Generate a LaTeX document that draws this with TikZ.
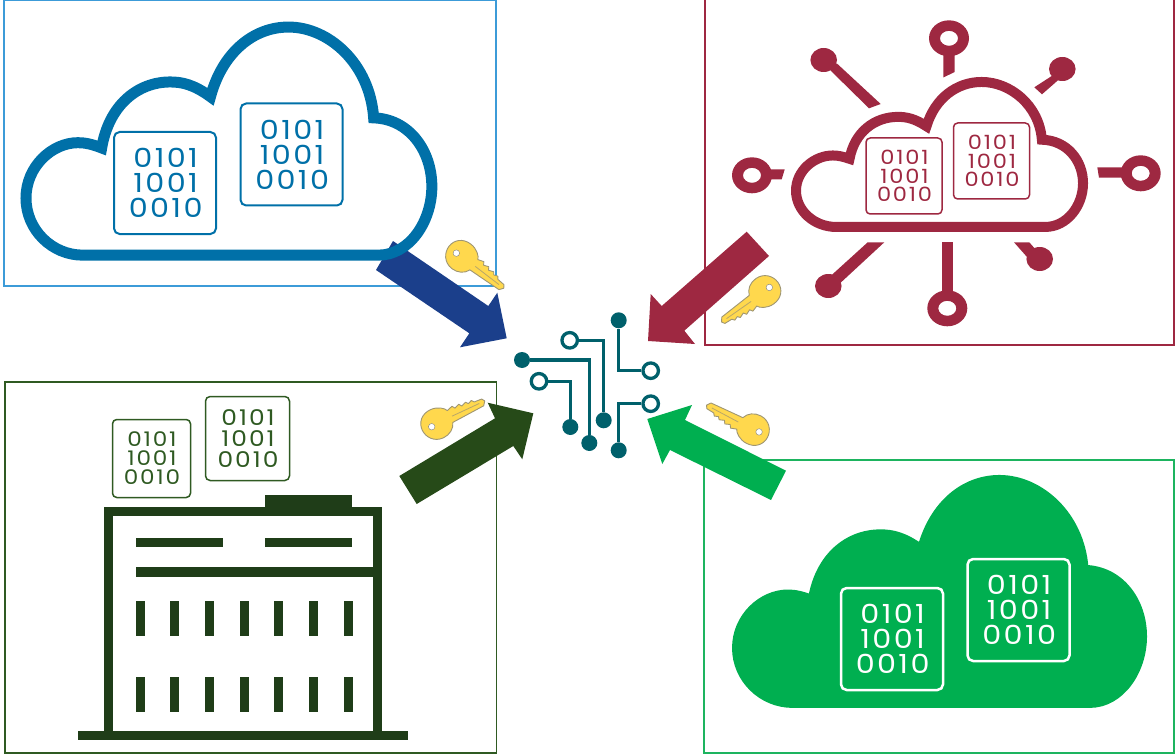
\documentclass[tikz,border=0pt]{standalone}
\usepackage{fontspec}
\setmainfont{Poppins}
\usetikzlibrary{calc}
\definecolor{cblue}{HTML}{0070A8}
\definecolor{fblue}{HTML}{3C9BD8}
\definecolor{ablue}{HTML}{1B3F8B}
\definecolor{cmar}{HTML}{9E2841}
\definecolor{cdg}{HTML}{1F3D18}
\definecolor{tdg}{HTML}{2F5A22}
\definecolor{adg}{HTML}{264A18}
\definecolor{cgr}{HTML}{00AF50}
\definecolor{fgr}{HTML}{1DB45F}
\definecolor{cteal}{HTML}{00606B}
\definecolor{ckey}{HTML}{FFD84D}
\tikzset{
  frame/.style={line width=1.5pt},
  cdot/.style={circle,fill=cteal,draw=none,inner sep=0pt,minimum size=16pt},
  copen/.style={circle,fill=white,draw=cteal,line width=3.3pt,inner sep=0pt,minimum size=15.5pt},
  trace/.style={draw=cteal,line width=3.2pt},
  wall/.style={fill=cdg,draw=none},
  sat/.style={fill=cmar,draw=none,even odd rule},
}
\newcommand{\cloudpath}{(135,448) -- (760,448) .. controls (825,448) and (873,385) .. (873,318)
  .. controls (873,250) and (825,190) .. (750,188)
  .. controls (742,85) and (655,16) .. (570,16)
  .. controls (495,16) and (430,65) .. (405,148)
  .. controls (370,125) and (345,120) .. (320,120)
  .. controls (250,120) and (190,165) .. (175,245)
  .. controls (155,238) and (140,235) .. (125,235)
  .. controls (70,235) and (15,280) .. (15,340)
  .. controls (15,400) and (70,448) .. (135,448) -- cycle}
% x y xscale yscale options
\newcommand{\cloudicon}[5]{\begin{scope}[shift={(#1,#2)},xscale=#3,yscale=#4]
  \path[#5,miter limit=10] \cloudpath;
\end{scope}}
% name cx cy width colour linewidth
\newcommand{\binbox}[6]{%
  \pgfmathsetmacro{\bfs}{#4*0.258}\pgfmathsetmacro{\bls}{#4*0.245}\pgfmathsetmacro{\brc}{#4*0.055}%
  \node[draw=#5,line width=#6,rounded corners=\brc pt,minimum size=#4pt,inner sep=0pt,text=#5,align=center,
    font=\fontsize{\bfs}{\bls}\selectfont\addfontfeature{FakeStretch=1.15,LetterSpace=9}] (#1) at (#2,#3) {\hspace{0.05em}0101\\\hspace{0.05em}1001\\\hspace{0.05em}0010};}
% name x y rotate
\newcommand{\keyicon}[4]{\begin{scope}[shift={(#2,#3)},rotate=#4]
  \path[fill=ckey,draw=gray!75!ckey,line width=0.9pt,line join=round]
    (0,-15) .. controls (8,-15) and (14,-10) .. (15,-7) -- (21,-9) -- (23,-6) -- (28,-8) -- (30,-5) -- (35,-7) -- (37,-4.5) -- (41,-6) -- (43,-3.5) -- (51,-3)
    -- (53,0) -- (50,4) -- (15,6) .. controls (13,12) and (7,16) .. (0,16)
    .. controls (-10,16) and (-16,8) .. (-16,0) .. controls (-16,-8) and (-10,-15) .. (0,-15) -- cycle;
  \draw[gray!55!ckey,line width=0.8pt] (17,0) -- (47,0);
  \node[circle,fill=white,draw=gray,line width=0.4pt,inner sep=0pt,minimum size=6.5pt] (#1) at (-6,1) {};
\end{scope}}
\begin{document}
\begin{tikzpicture}[x=1pt,y=-1pt]
\useasboundingbox (0,0) rectangle (1175,754);
% frames
\draw[frame,fblue] (4,0.7) rectangle (496,286);
\draw[frame,cmar] (705,-1) rectangle (1174,345);
\draw[frame,tdg] (5,382) rectangle (496.5,753);
\draw[frame,fgr] (704,460) rectangle (1174,753);
% arrow that runs under the blue cloud
\fill[ablue] (393,241) -- (488.3,306) -- (497.3,292.7) -- (506.7,338.3) -- (460,347.3) -- (469.3,333.3) -- (376,270) -- cycle;
% clouds
\cloudicon{18.9}{18.6}{0.473}{0.528}{draw=cblue,line width=11pt}
\cloudicon{791}{76.6}{0.3345}{0.3356}{draw=cmar,line width=10pt}
\cloudicon{728.4}{470.1}{0.4755}{0.523}{fill=cgr,draw=cgr,line width=7pt}
% binary boxes
\binbox{ba}{165}{183}{102}{cblue}{2pt}
\binbox{bb}{291.5}{154.5}{102}{cblue}{2pt}
\binbox{ma}{904}{176}{76}{cmar}{1.5pt}
\binbox{mb}{991.5}{161}{76}{cmar}{1.5pt}
\binbox{da}{151.5}{458.5}{78}{tdg}{1.5pt}
\binbox{db}{247.5}{438.5}{84}{tdg}{1.5pt}
\binbox{ga}{892}{639}{102}{white}{2.5pt}
\binbox{gb}{1018.5}{610}{102}{white}{2.5pt}
% building
\draw[cdg,line width=8.7pt,line join=miter] (108.7,732) -- (108.7,511.7) -- (377.3,511.7) -- (377.3,732);
\fill[wall] (78.3,731) rectangle (407.7,740);
\fill[wall] (265,495) rectangle (352,510);
\fill[wall] (136.3,538) rectangle (223.3,547);
\fill[wall] (265,538) rectangle (352,547);
\fill[wall] (136,566.7) rectangle (375,576.7);
\foreach \bx in {140.3,174.3,209.3,244.3,278.3,313.3,348}{
  \fill[wall] (\bx-4.5,601) rectangle (\bx+4.5,636);
  \fill[wall] (\bx-4.5,677) rectangle (\bx+4.5,712);
}
% satellites
\fill[sat] (949,38.3) ellipse[x radius=20,y radius=18] (949,38.3) ellipse[x radius=9,y radius=7.5];
\fill[sat] (943.3,50) -- (954.7,50) -- (954.7,72) -- (943.3,77.5) -- cycle;
\fill[sat] (752,175.3) ellipse[x radius=20,y radius=18] (752,175.3) ellipse[x radius=9,y radius=7.5];
\fill[sat] (765,169.3) -- (784.7,169.3) -- (781.7,179.3) -- (765,179.3) -- cycle;
\fill[sat] (1140.7,173.3) ellipse[x radius=20,y radius=18] (1140.7,173.3) ellipse[x radius=9,y radius=7.5];
\fill[sat] (1097.3,167.3) -- (1125,167.3) -- (1125,177.7) -- (1099,177.7) -- cycle;
\fill[sat] (947.3,308.3) ellipse[x radius=20,y radius=18] (947.3,308.3) ellipse[x radius=9,y radius=7.5];
\fill[sat] (941.7,242.3) -- (953,242.3) -- (953,293) -- (941.7,293) -- cycle;
\fill[sat] (823.7,60) ellipse[x radius=13.3,y radius=12];
\fill[sat] (830,70) -- (836.7,63.3) -- (880.7,104) -- (869,108.3) -- cycle;
\fill[sat] (1062.3,69) ellipse[x radius=13.3,y radius=12];
\fill[sat] (1053.3,75) -- (1058.3,80) -- (1042,94.3) -- (1034.3,87.3) -- cycle;
\fill[sat] (828.3,286) ellipse[x radius=13.3,y radius=12];
\fill[sat] (867.7,242.3) -- (884.3,242.3) -- (840,283.3) -- (831.7,275) -- cycle;
\fill[sat] (1039.7,259) ellipse[x radius=13.3,y radius=12];
\fill[sat] (1014,242.3) -- (1029.3,242.3) -- (1036,250) -- (1027,257) -- cycle;
% arrows
\fill[cmar] (746.7,231.7) -- (661.7,306) -- (650.7,294) -- (648,341) -- (695,344) -- (684.3,330.7) -- (769,256) -- cycle;
\fill[adg] (399.3,476) -- (495,418.3) -- (487.7,402.7) -- (533.3,413.3) -- (522.3,459.3) -- (513.3,446) -- (416.7,504) -- cycle;
\fill[cgr] (786,470.7) -- (685,420) -- (692,405) -- (647.3,419) -- (662.3,464) -- (670,450) -- (771,500) -- cycle;
% keys
\keyicon{ka}{461.7}{256}{-37.5}
\keyicon{kb}{765}{291.7}{-145}
\keyicon{kc}{436.7}{423.3}{25}
\keyicon{kd}{753.3}{430}{-208}
% circuit
\node[cdot] (a1) at (618.7,320.3) {};
\node[copen] (a2) at (650.7,370.7) {};
\node[copen] (b1) at (569.7,340.3) {};
\node[cdot] (b2) at (603.7,420.3) {};
\node[cdot] (c1) at (522,360) {};
\node[cdot] (c2) at (589.3,443) {};
\node[copen] (d1) at (539,381.3) {};
\node[cdot] (d2) at (570.3,427) {};
\node[copen] (e1) at (650.7,403.7) {};
\node[cdot] (e2) at (618.7,450.3) {};
\path[trace] (a1) |- (a2);
\path[trace] (b1) -| (b2);
\path[trace] (c1) -| (c2);
\path[trace] (d1) -| (d2);
\path[trace] (e2) |- (e1);
\end{tikzpicture}
\end{document}
